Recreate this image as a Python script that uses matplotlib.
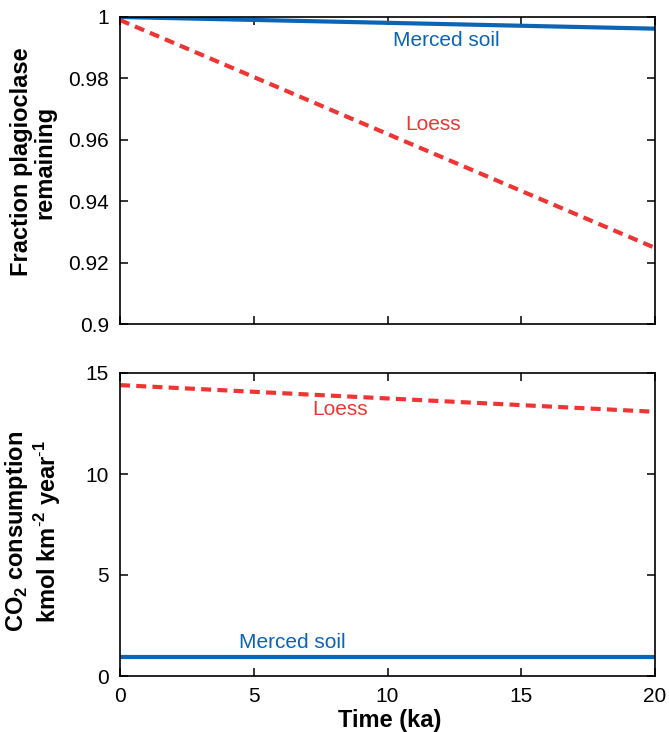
import matplotlib
matplotlib.use("Agg")
import matplotlib.pyplot as plt

plt.rcParams['font.family'] = ['Liberation Sans', 'DejaVu Sans']
plt.rcParams['mathtext.fontset'] = 'custom'
plt.rcParams['mathtext.rm'] = 'Liberation Sans'
plt.rcParams['mathtext.bf'] = 'Liberation Sans:bold'

time_ka = [0, 20]
frac_merced = [1.0, 0.9962]
frac_loess = [0.999, 0.9248]
co2_merced = [0.95, 0.95]
co2_loess = [14.4, 13.08]

blue = '#0b64b4'
red = '#ef3434'

fig = plt.figure(figsize=(6.69, 7.32), dpi=100)
W, H = 669, 732
ax1 = fig.add_axes([120 / W, 1 - 324 / H, 535 / W, 307 / H])
ax2 = fig.add_axes([120 / W, 1 - 676 / H, 535 / W, 303 / H])

for ax in (ax1, ax2):
    ax.set_xlim(0, 20)
    ax.set_xticks([0, 5, 10, 15, 20])
    ax.tick_params(direction='in', top=True, right=True, length=6, width=1.1,
                   labelsize=15, pad=8)
    for s in ax.spines.values():
        s.set_linewidth(1.2)

ax1.plot(time_ka, frac_merced, color=blue, lw=3, solid_capstyle='butt')
ax1.plot(time_ka, frac_loess, color=red, lw=3, dashes=(2.4, 1.5))
ax1.set_ylim(0.9, 1.0)
ax1.set_yticks([0.9, 0.92, 0.94, 0.96, 0.98, 1.0])
ax1.set_yticklabels(['0.9', '0.92', '0.94', '0.96', '0.98', '1'])
ax1.set_xticklabels([])
ax1.text(12.2, 0.9925, 'Merced soil', color=blue, fontsize=15, ha='center', va='center')
ax1.text(11.7, 0.9651, 'Loess', color=red, fontsize=15, ha='center', va='center')

ax2.plot(time_ka, co2_merced, color=blue, lw=3, solid_capstyle='butt')
ax2.plot(time_ka, co2_loess, color=red, lw=3, dashes=(2.4, 1.5))
ax2.set_ylim(0, 15)
ax2.set_yticks([0, 5, 10, 15])
ax2.text(8.22, 13.17, 'Loess', color=red, fontsize=15, ha='center', va='center')
ax2.text(6.43, 1.65, 'Merced soil', color=blue, fontsize=15, ha='center', va='center')

fig.text(33 / W, 1 - 162 / H, 'Fraction plagioclase\nremaining', rotation=90,
         fontsize=17, fontweight='bold', ha='center', va='center', linespacing=1.05)
fig.text(33 / W, 1 - 531 / H,
         'CO$_\\mathbf{2}$ consumption\nkmol km$^{\\mathbf{\\text{-}2}}$ year$^{\\mathbf{\\text{-}1}}$',
         rotation=90, fontsize=17, fontweight='bold', ha='center', va='center',
         linespacing=1.05)
fig.text(390 / W, 1 - 720 / H, 'Time (ka)', fontsize=17, fontweight='bold',
         ha='center', va='center')

fig.savefig('out.png', dpi=100)
